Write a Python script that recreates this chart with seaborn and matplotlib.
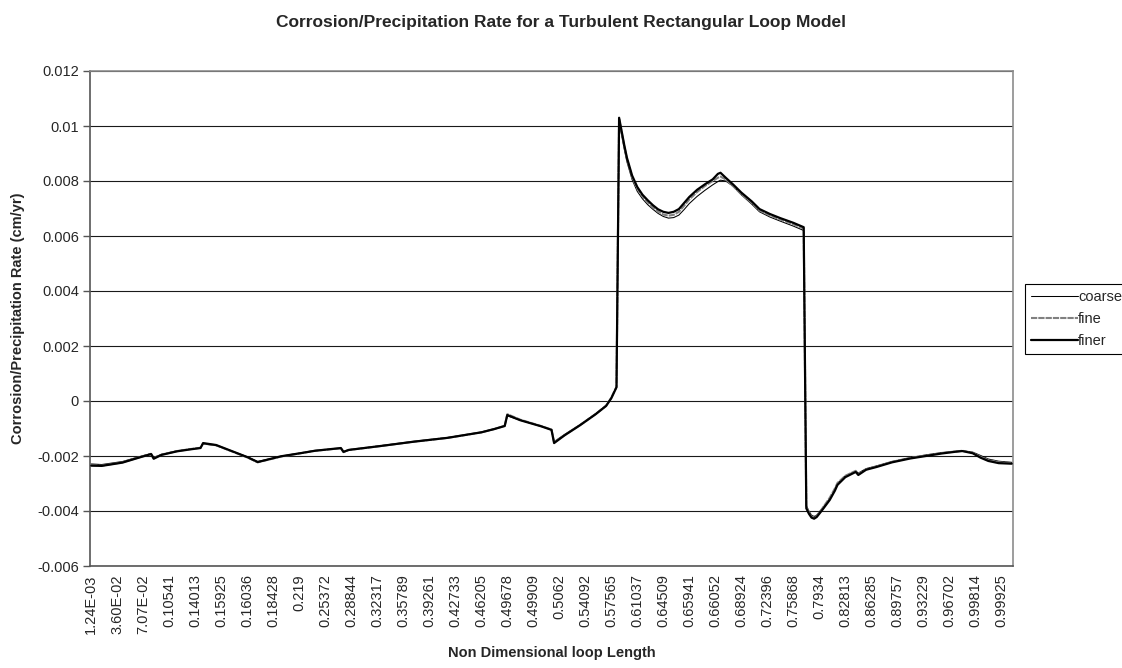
import matplotlib
matplotlib.use("Agg")
import matplotlib.pyplot as plt
import seaborn as sns
import pandas as pd
from matplotlib.ticker import FixedLocator, FuncFormatter
from matplotlib.lines import Line2D

# Category labels (non-dimensional loop length), one every 10 mesh nodes
length_labels = [
    "1.24E-03", "3.60E-02", "7.07E-02", "0.10541", "0.14013", "0.15925",
    "0.16036", "0.18428", "0.219", "0.25372", "0.28844", "0.32317",
    "0.35789", "0.39261", "0.42733", "0.46205", "0.49678", "0.49909",
    "0.5062", "0.54092", "0.57565", "0.61037", "0.64509", "0.65941",
    "0.66052", "0.68924", "0.72396", "0.75868", "0.7934", "0.82813",
    "0.86285", "0.89757", "0.93229", "0.96702", "0.99814", "0.99925",
]
label_step = 10
n_nodes = 355

# Mesh node index along the loop
node = [
    0, 4, 12, 19, 23, 24, 27, 33, 38, 42,
    43, 48, 54, 60, 64, 73, 81, 86, 96, 97,
    99, 111, 124, 137, 150, 155, 159, 160, 165, 173,
    177, 178, 182, 188, 194, 198, 200, 202, 203, 204,
    205, 206, 208, 210, 212, 214, 216, 218, 220, 222,
    224, 226, 228, 230, 233, 236, 239, 241, 242, 244,
    247, 250, 254, 257, 261, 265, 270, 274, 275, 276,
    277, 278, 279, 281, 284, 286, 287, 290, 294, 295,
    298, 302, 308, 315, 321, 327, 332, 335, 339, 342,
    345, 349, 354,
]

# Corrosion/precipitation rate (cm/yr) for each mesh resolution
coarse = [
    -0.00229, -0.00231, -0.00220, -0.00201, -0.00191, -0.00205, -0.00194, -0.00181, -0.00175, -0.00170,
    -0.00156, -0.00162, -0.00182, -0.00203, -0.00220, -0.00201, -0.00188, -0.00180, -0.00172, -0.00184,
    -0.00177, -0.00163, -0.00147, -0.00133, -0.00113, -0.00101, -0.00090, -0.00054, -0.00070, -0.00092,
    -0.00104, -0.00148, -0.00122, -0.00086, -0.00046, -0.00016, 0.00012, 0.00050, 0.01015, 0.00965,
    0.00915, 0.00870, 0.00805, 0.00762, 0.00735, 0.00714, 0.00697, 0.00682, 0.00671, 0.00665,
    0.00667, 0.00676, 0.00696, 0.00718, 0.00744, 0.00766, 0.00786, 0.00798, 0.00803, 0.00800,
    0.00780, 0.00750, 0.00716, 0.00688, 0.00669, 0.00654, 0.00636, 0.00620, -0.00380, -0.00400,
    -0.00415, -0.00420, -0.00415, -0.00392, -0.00355, -0.00320, -0.00300, -0.00272, -0.00255, -0.00262,
    -0.00246, -0.00236, -0.00220, -0.00206, -0.00196, -0.00188, -0.00183, -0.00181, -0.00186, -0.00198,
    -0.00211, -0.00219, -0.00223,
]
fine = [
    -0.00234, -0.00235, -0.00223, -0.00203, -0.00192, -0.00208, -0.00195, -0.00182, -0.00175, -0.00170,
    -0.00155, -0.00161, -0.00183, -0.00205, -0.00223, -0.00202, -0.00189, -0.00181, -0.00172, -0.00186,
    -0.00178, -0.00164, -0.00148, -0.00134, -0.00114, -0.00102, -0.00090, -0.00048, -0.00068, -0.00091,
    -0.00104, -0.00150, -0.00124, -0.00087, -0.00047, -0.00017, 0.00012, 0.00052, 0.01025, 0.00975,
    0.00925, 0.00880, 0.00814, 0.00772, 0.00744, 0.00722, 0.00704, 0.00689, 0.00678, 0.00674,
    0.00677, 0.00688, 0.00710, 0.00733, 0.00760, 0.00782, 0.00800, 0.00812, 0.00816, 0.00806,
    0.00780, 0.00752, 0.00721, 0.00693, 0.00675, 0.00660, 0.00643, 0.00627, -0.00385, -0.00405,
    -0.00420, -0.00424, -0.00418, -0.00393, -0.00352, -0.00318, -0.00298, -0.00272, -0.00254, -0.00266,
    -0.00248, -0.00238, -0.00221, -0.00207, -0.00198, -0.00189, -0.00184, -0.00181, -0.00188, -0.00203,
    -0.00215, -0.00223, -0.00226,
]
finer = [
    -0.00235, -0.00236, -0.00224, -0.00204, -0.00193, -0.00210, -0.00196, -0.00183, -0.00176, -0.00171,
    -0.00153, -0.00160, -0.00182, -0.00204, -0.00222, -0.00201, -0.00189, -0.00181, -0.00171, -0.00185,
    -0.00178, -0.00164, -0.00148, -0.00134, -0.00114, -0.00102, -0.00091, -0.00051, -0.00070, -0.00092,
    -0.00105, -0.00153, -0.00125, -0.00088, -0.00048, -0.00018, 0.00010, 0.00050, 0.01030, 0.00980,
    0.00930, 0.00885, 0.00820, 0.00778, 0.00750, 0.00730, 0.00712, 0.00697, 0.00688, 0.00684,
    0.00688, 0.00698, 0.00720, 0.00742, 0.00768, 0.00788, 0.00806, 0.00826, 0.00830, 0.00812,
    0.00786, 0.00758, 0.00726, 0.00698, 0.00680, 0.00665, 0.00648, 0.00632, -0.00390, -0.00410,
    -0.00424, -0.00428, -0.00422, -0.00398, -0.00360, -0.00326, -0.00305, -0.00277, -0.00258, -0.00269,
    -0.00250, -0.00240, -0.00223, -0.00209, -0.00200, -0.00191, -0.00185, -0.00182, -0.00190, -0.00206,
    -0.00218, -0.00226, -0.00228,
]

y_ticks = [-0.006, -0.004, -0.002, 0.0, 0.002, 0.004, 0.006, 0.008, 0.010, 0.012]

series_names = ["coarse", "fine", "finer"]
series_values = [coarse, fine, finer]
series_style = {
    "coarse": dict(color="#000000", linewidth=0.75, linestyle="-"),
    "fine": dict(color="#808080", linewidth=1.5, linestyle=(0, (3.0, 0.5))),
    "finer": dict(color="#000000", linewidth=1.6, linestyle="-"),
}

sns.set_theme(style="white")
plt.rcParams["font.family"] = ["Liberation Sans", "DejaVu Sans"]

fig = plt.figure(figsize=(11.22, 6.68), dpi=100)
ax = fig.add_axes([90 / 1122, 1 - 566 / 668, 923 / 1122, 495 / 668])

handles = []
for name, values in zip(series_names, series_values):
    df = pd.DataFrame({"node": node, "rate": values})
    st = series_style[name]
    sns.lineplot(data=df, x="node", y="rate", ax=ax, estimator=None, sort=False,
                 color=st["color"], linewidth=st["linewidth"],
                 linestyle=st["linestyle"], zorder=3)
    handles.append(Line2D([], [], color=st["color"], linewidth=st["linewidth"],
                          linestyle=st["linestyle"], label=name))

ax.set_xlim(-0.5, n_nodes - 0.5)
ax.set_ylim(y_ticks[0], y_ticks[-1])

ax.xaxis.set_major_locator(FixedLocator(list(range(0, n_nodes, label_step))))
ax.set_xticklabels(length_labels, rotation=90, fontsize=10.5)
ax.yaxis.set_major_locator(FixedLocator(y_ticks))
ax.yaxis.set_major_formatter(FuncFormatter(lambda v, p: f"{round(v, 6):g}"))
ax.tick_params(axis="y", which="major", direction="out", length=5, width=1,
               color="#555555", labelsize=10.5, pad=3, left=True)
ax.tick_params(axis="x", which="major", length=0, pad=6, labelsize=10.5)

ax.grid(axis="y", color="#1a1a1a", linewidth=0.8, zorder=1)
ax.grid(axis="x", visible=False)
ax.set_axisbelow(True)

for side in ["left", "bottom"]:
    ax.spines[side].set_color("#555555")
    ax.spines[side].set_linewidth(1.2)
for side in ["top", "right"]:
    ax.spines[side].set_color("#8c8c8c")
    ax.spines[side].set_linewidth(1.2)

ax.set_xlabel("Non Dimensional loop Length", fontsize=10.5, fontweight="bold", labelpad=9)
ax.set_ylabel("Corrosion/Precipitation Rate (cm/yr)", fontsize=10.5, fontweight="bold", labelpad=9)

fig.suptitle("Corrosion/Precipitation Rate for a Turbulent Rectangular Loop Model",
             x=0.5, y=1 - 15 / 668, va="top", fontsize=12.5, fontweight="bold")

leg = fig.legend(handles=handles, loc="upper left",
                 bbox_to_anchor=(1025 / 1122, 1 - 284 / 668),
                 fontsize=10.5, frameon=True, fancybox=False, framealpha=1,
                 edgecolor="#000000", handlelength=3.2, handletextpad=0.05,
                 borderpad=0.4, labelspacing=0.55, borderaxespad=0)
leg.get_frame().set_linewidth(0.8)

fig.savefig("out.png", dpi=100, facecolor="white")
